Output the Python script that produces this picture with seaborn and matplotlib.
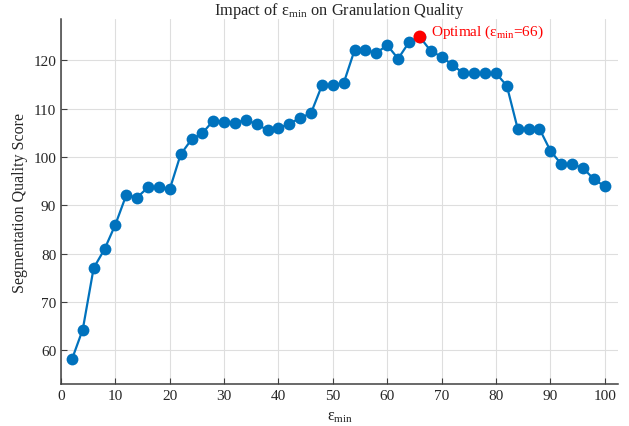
import numpy as np
import pandas as pd
import matplotlib
matplotlib.use("Agg")
import matplotlib.pyplot as plt
import seaborn as sns

# epsilon_min sweep and resulting segmentation quality scores
eps_min = list(range(2, 101, 2))
quality = [58.1, 64.3, 77.0, 80.9, 86.0, 92.1, 91.6, 93.7, 93.7, 93.3,
           100.5, 103.6, 104.9, 107.5, 107.2, 107.1, 107.6, 106.8, 105.5, 105.9,
           106.9, 108.0, 109.1, 114.8, 114.8, 115.3, 122.1, 122.1, 121.5, 123.1,
           120.3, 123.7, 124.8, 121.9, 120.7, 119.0, 117.3, 117.3, 117.3, 117.3,
           114.7, 105.8, 105.8, 105.8, 101.3, 98.5, 98.5, 97.7, 95.4, 93.9]
best_eps = [66]
best_quality = [124.8]

x_ticks = list(range(0, 101, 10))
y_ticks = list(range(60, 121, 10))

df = pd.DataFrame({"eps": eps_min, "quality": quality})
best = pd.DataFrame({"eps": best_eps, "quality": best_quality})

sns.set_style("whitegrid")
plt.rcParams["font.family"] = ["Liberation Serif", "DejaVu Serif"]
plt.rcParams["mathtext.fontset"] = "custom"
plt.rcParams["mathtext.rm"] = "Liberation Serif"
plt.rcParams["mathtext.it"] = "Liberation Serif:italic"

fig = plt.figure(figsize=(6.29, 4.27), dpi=100)
ax = fig.add_axes([0.097, 0.098, 0.886, 0.855])

blue = "#0072BD"
sns.lineplot(data=df, x="eps", y="quality", ax=ax, color=blue, linewidth=1.6,
             marker="o", markersize=8.5, markeredgewidth=0, markeredgecolor=blue)
sns.scatterplot(data=best, x="eps", y="quality", ax=ax, color="#FF0000",
                s=85, edgecolor="none", zorder=5)

eps_tex = r"ε$_{\mathrm{min}}$"
ax.annotate(f"Optimal ({eps_tex}={best_eps[0]})",
            xy=(best_eps[0], best_quality[0]), xytext=(8, -2),
            textcoords="offset points", color="#FF0000", fontsize=11,
            va="bottom", ha="left")

ax.set_xlim(0, 102.5)
ax.set_ylim(53, 128.5)
ax.set_xticks(x_ticks)
ax.set_yticks(y_ticks)

ax.set_title(f"Impact of {eps_tex} on Granulation Quality", fontsize=11.8, pad=4)
ax.set_xlabel(eps_tex, fontsize=11.5)
ax.set_ylabel("Segmentation Quality Score", fontsize=11.5)

ax.grid(True, color="#DEDEDE", linewidth=0.8)
for side in ("top", "right"):
    ax.spines[side].set_visible(False)
for side in ("left", "bottom"):
    ax.spines[side].set_visible(True)
    ax.spines[side].set_color("#404040")
    ax.spines[side].set_linewidth(1.1)
ax.tick_params(axis="both", direction="in", length=4, width=0.8,
               colors="#404040", labelcolor="#262626", labelsize=11,
               left=True, bottom=True)

fig.savefig("out.png", dpi=100)
